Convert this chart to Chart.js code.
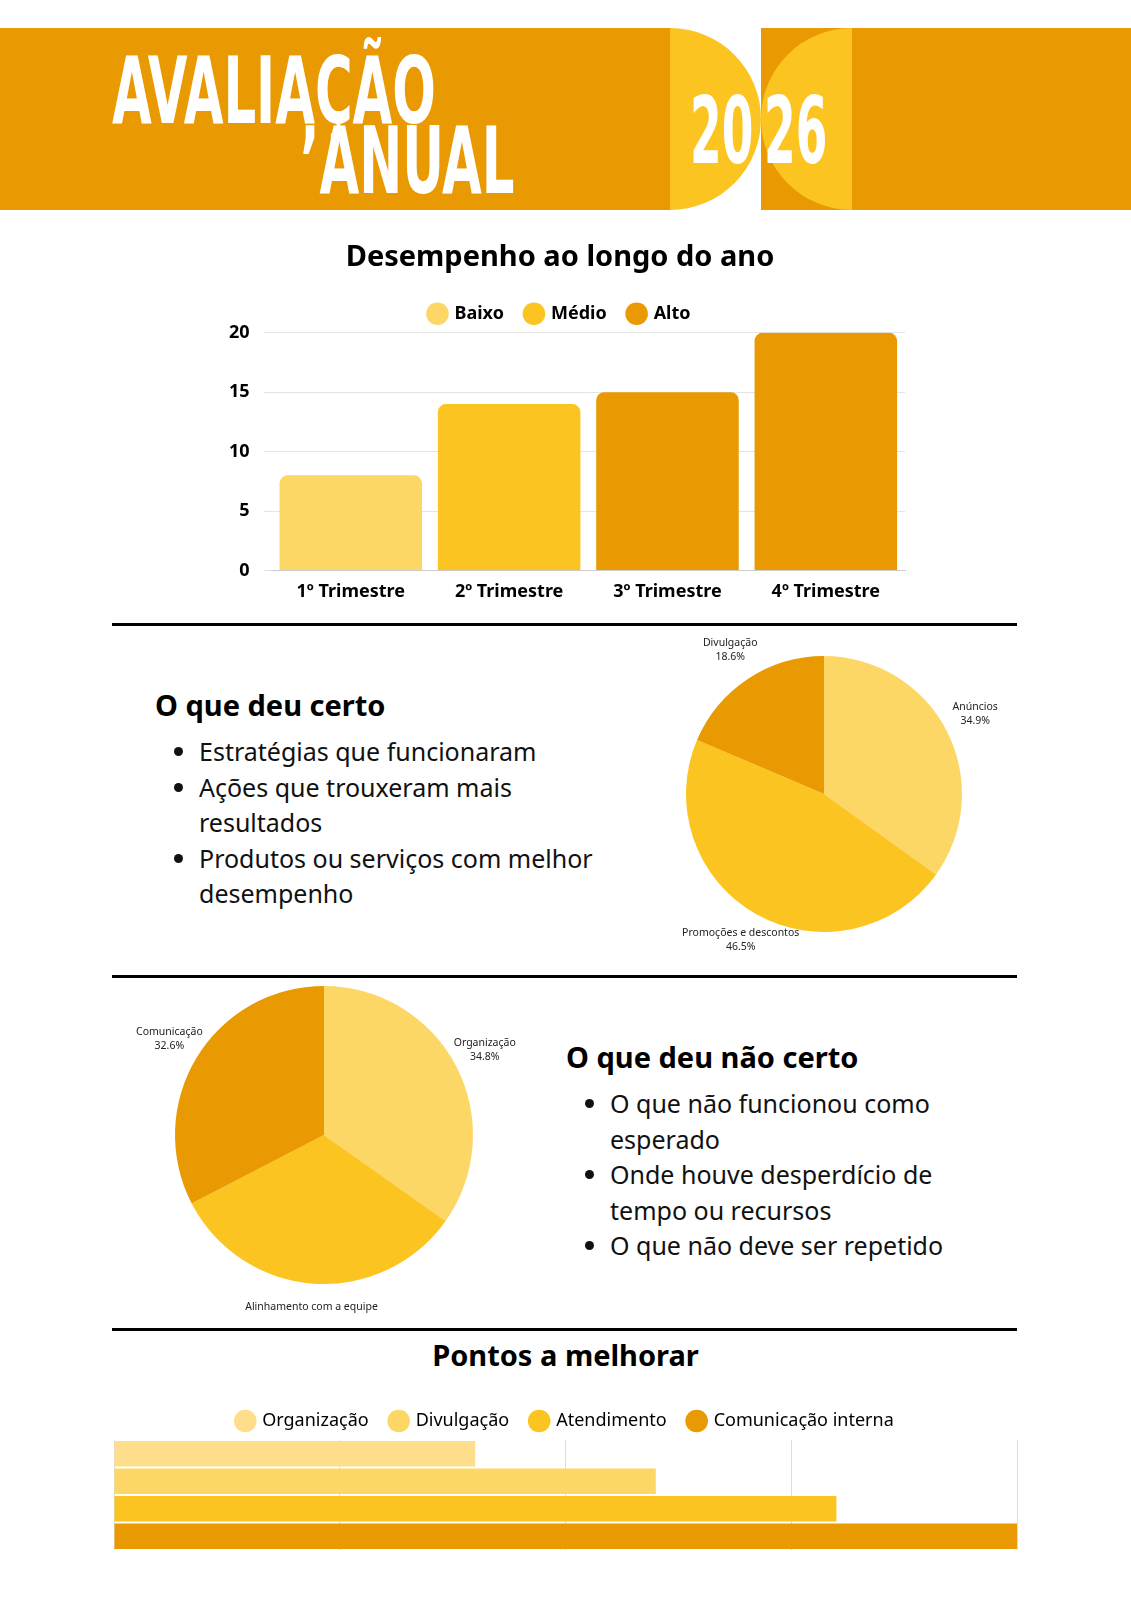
<!DOCTYPE html>
<html><head><meta charset="utf-8">
<script src="https://cdn.jsdelivr.net/npm/chart.js@4"></script>
<style>
body{margin:0;width:1131px;height:1600px;position:relative;background:#fff;font-family:"Noto Sans",sans-serif;overflow:hidden}
.abs{position:absolute}
.band{left:0;top:28px;width:1131px;height:182px;background:#E99A03}
.cond{font-family:"Liberation Sans Narrow","DejaVu Sans Condensed",sans-serif;font-weight:bold;color:#fff;transform-origin:left top;white-space:nowrap}
.rule{left:112px;width:905px;height:3px;background:#000}
h2{margin:0;font-size:29px;font-weight:bold;color:#000;white-space:nowrap}
ul{margin:0;padding-left:44px;font-size:25px;line-height:35.5px;color:#111}
</style></head><body>
<div class="abs band"></div>
<div class="abs" style="left:670px;top:28px;width:91px;height:182px;background:#fff"></div>
<div class="abs" style="left:670px;top:28px;width:91px;height:182px;background:#FCC420;border-radius:0 100% 100% 0/0 50% 50% 0"></div>
<div class="abs" style="left:761px;top:28px;width:91px;height:182px;background:#FCC420;border-radius:100% 0 0 100%/50% 0 0 50%"></div>
<div class="abs cond" style="left:112px;top:38px;font-size:92px;transform:scaleX(0.62)">AVALIAÇÃO</div>
<div class="abs cond" style="left:300px;top:108px;font-size:92px;transform:scaleX(0.62)">’ANUAL</div>
<div class="abs cond" style="left:690px;top:78px;font-size:92px;transform:scaleX(0.55)">20</div>
<div class="abs cond" style="left:764px;top:78px;font-size:92px;transform:scaleX(0.55)">26</div>

<div class="abs" style="left:215px;top:240px;width:700px;height:366px"><canvas id="bar1"></canvas></div>
<div class="abs rule" style="top:623px"></div>
<div class="abs" style="left:155px;top:685px"><h2>O que deu certo</h2>
<ul style="margin-top:10px"><li>Estratégias que funcionaram</li><li>Ações que trouxeram mais<br>resultados</li><li>Produtos ou serviços com melhor<br>desempenho</li></ul></div>
<div class="abs" style="left:624px;top:614px;width:400px;height:360px"><canvas id="pie1"></canvas></div>
<div class="abs rule" style="top:975px"></div>
<div class="abs" style="left:104px;top:955px;width:440px;height:360px"><canvas id="pie2"></canvas></div>
<div class="abs" style="left:566px;top:1037px"><h2>O que deu não certo</h2>
<ul style="margin-top:10px"><li>O que não funcionou como<br>esperado</li><li>Onde houve desperdício de<br>tempo ou recursos</li><li>O que não deve ser repetido</li></ul></div>
<div class="abs rule" style="top:1328px"></div>
<div class="abs" style="left:0;top:1335px;width:1131px;text-align:center"><h2>Pontos a melhorar</h2></div>
<div class="abs" style="left:104px;top:1390px;width:923px;height:170px"><canvas id="bar2"></canvas></div>

<script>
const LIGHT = '#FEDE8A', SOFT = '#FDD766', MID = '#FCC420', DARK = '#E99A03';

const quarters = ['1º Trimestre', '2º Trimestre', '3º Trimestre', '4º Trimestre'];
const quarterValues = [8, 14, 15, 20];
const quarterColors = [SOFT, MID, DARK, DARK];
const levelLabels = ['Baixo', 'Médio', 'Alto'];
const levelColors = [SOFT, MID, DARK];

const rightLabels = ['Anúncios', 'Promoções e descontos', 'Divulgação'];
const rightValues = [34.9, 46.5, 18.6];
const wrongLabels = ['Organização', 'Alinhamento com a equipe', 'Comunicação'];
const wrongValues = [34.8, 32.6, 32.6];
const pieColors = [SOFT, MID, DARK];

const improveLabels = ['Organização', 'Divulgação', 'Atendimento', 'Comunicação interna'];
const improveValues = [8, 12, 16, 20];
const improveColors = [LIGHT, SOFT, MID, DARK];

Chart.defaults.font.family = '"Noto Sans", sans-serif';
Chart.defaults.color = '#000';
Chart.defaults.animation = false;

// ─── Desempenho ───
new Chart(document.getElementById('bar1'), {
  type: 'bar',
  data: { labels: quarters, datasets: [{ data: quarterValues, backgroundColor: quarterColors,
    borderRadius: { topLeft: 8, topRight: 8 }, borderSkipped: 'bottom', categoryPercentage: 0.9, barPercentage: 1 }] },
  options: {
    responsive: true, maintainAspectRatio: false,
    layout: { padding: { right: 10 } },
    scales: {
      x: { grid: { display: false }, border: { color: '#ccc' }, ticks: { font: { size: 18, weight: 'bold' } } },
      y: { min: 0, max: 20, ticks: { stepSize: 5, font: { size: 18, weight: 'bold' }, padding: 14 },
           grid: { color: '#e4e4e4' }, border: { display: false } }
    },
    plugins: {
      title: { display: true, text: 'Desempenho ao longo do ano', font: { size: 29, weight: 'bold' }, padding: { bottom: 8 } },
      legend: { labels: { usePointStyle: true, pointStyle: 'circle', boxWidth: 16, boxHeight: 16, padding: 22,
        font: { size: 18, weight: 'bold' },
        generateLabels: () => levelLabels.map((t, i) => ({ text: t, fillStyle: levelColors[i], strokeStyle: levelColors[i], lineWidth: 0, pointStyle: 'circle' })) },
        onClick: null },
      tooltip: { enabled: false }
    }
  }
});

// ─── Pie labels outside ───
const outLabels = {
  id: 'outLabels',
  afterDatasetsDraw(chart) {
    const ctx = chart.ctx, meta = chart.getDatasetMeta(0);
    const data = chart.data.datasets[0].data;
    ctx.save();
    ctx.font = '10.5px "Noto Sans"';
    ctx.fillStyle = '#222';
    ctx.textAlign = 'center';
    meta.data.forEach((arc, i) => {
      const a = (arc.startAngle + arc.endAngle) / 2, r = arc.outerRadius + 32;
      const x = arc.x + Math.cos(a) * r, y = arc.y + Math.sin(a) * r;
      ctx.fillText(chart.data.labels[i], x, y - 6);
      ctx.fillText(data[i].toFixed(1) + '%', x, y + 8);
    });
    ctx.restore();
  }
};

function pie(id, labels, values, pad) {
  new Chart(document.getElementById(id), {
    type: 'pie',
    data: { labels, datasets: [{ data: values, backgroundColor: pieColors, borderWidth: 0 }] },
    options: { responsive: true, maintainAspectRatio: false, layout: { padding: pad },
      plugins: { legend: { display: false }, tooltip: { enabled: false } } },
    plugins: [outLabels]
  });
}
pie('pie1', rightLabels, rightValues, 42);
pie('pie2', wrongLabels, wrongValues, 31);

// ─── Pontos a melhorar ───
new Chart(document.getElementById('bar2'), {
  type: 'bar',
  data: { labels: improveLabels, datasets: [{ data: improveValues, backgroundColor: improveColors,
    categoryPercentage: 1, barPercentage: 0.92 }] },
  options: {
    indexAxis: 'y', responsive: true, maintainAspectRatio: false,
    layout: { padding: { left: 10, right: 10, bottom: 10 } },
    scales: {
      x: { min: 0, max: 20, ticks: { display: false, stepSize: 5 }, grid: { color: '#ddd', drawTicks: false }, border: { display: false } },
      y: { ticks: { display: false }, grid: { display: false, drawTicks: false }, border: { display: false } }
    },
    plugins: {
      legend: { labels: { usePointStyle: true, pointStyle: 'circle', boxWidth: 16, boxHeight: 16, padding: 22,
        font: { size: 18 },
        generateLabels: () => improveLabels.map((t, i) => ({ text: t, fillStyle: improveColors[i], strokeStyle: improveColors[i], lineWidth: 0, pointStyle: 'circle' })) },
        onClick: null },
      tooltip: { enabled: false }
    }
  }
});
</script>
</body></html>
